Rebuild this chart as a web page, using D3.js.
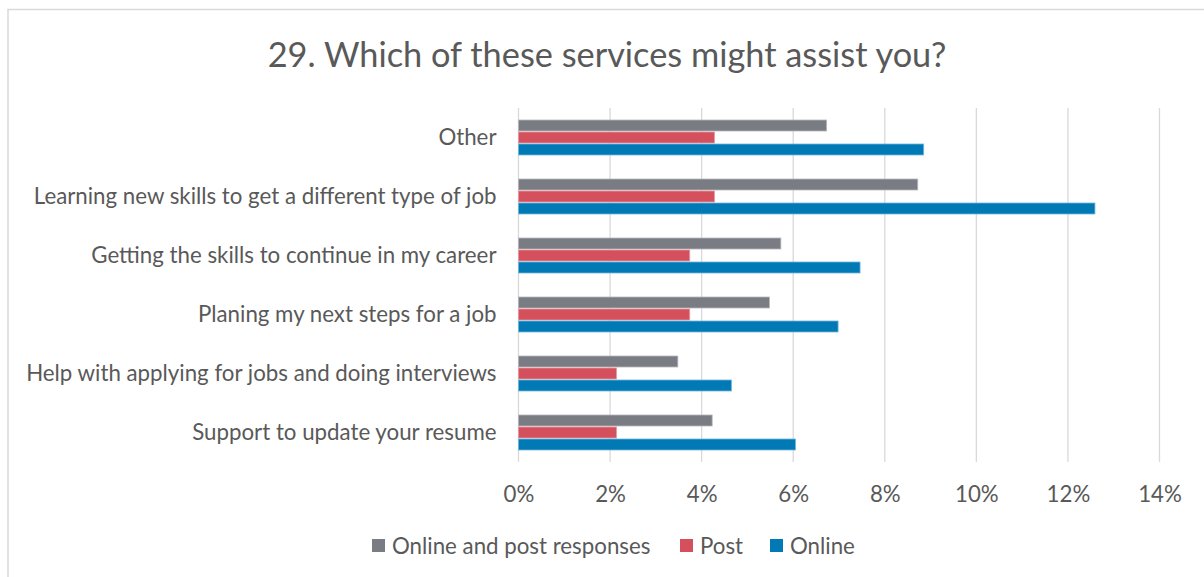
<!DOCTYPE html>
<html><head><meta charset="utf-8">
<script src="https://cdn.jsdelivr.net/npm/d3@7"></script>
<style>body{margin:0;background:#fff}svg{display:block}text{font-family:Lato,"Open Sans",sans-serif;fill:#595959}</style>
</head><body><svg id="c" width="1204" height="577"></svg>
<script>
const title = "29. Which of these services might assist you?";
const categories = ["Other","Learning new skills to get a different type of job","Getting the skills to continue in my career","Planing my next steps for a job","Help with applying for jobs and doing interviews","Support to update your resume"];
const seriesNames = ["Online and post responses","Post","Online"];
const combined = [6.73, 8.72, 5.73, 5.48, 3.48, 4.23];
const post = [4.28, 4.28, 3.74, 3.74, 2.14, 2.14];
const online = [8.85, 12.59, 7.46, 6.98, 4.65, 6.05];
const ticks = [0,2,4,6,8,10,12,14];
const colors = ["#7a7c84","#d4505d","#0079b4"];
const strokes = ["#b5b7bc","#e79aa1","#6fb6dc"];
const seriesVals = [combined, post, online];

const svg = d3.select("#c");
svg.append("rect").attr("x",8).attr("y",9.5).attr("width",1204).attr("height",580).attr("fill","none").attr("stroke","#d9d9d9").attr("stroke-width",1.5);

const x = d3.scaleLinear().domain([0,14]).range([518.5,1159.5]);
const y = d3.scaleBand().domain(categories).range([108,462]).paddingInner(0.39).paddingOuter(0.195);
const ys = d3.scaleBand().domain(d3.range(3)).range([0,y.bandwidth()]);

function fit(sel, target){ // scale font size so text width matches the reference width
  const w = sel.node().getComputedTextLength();
  const fs = parseFloat(sel.style("font-size"));
  sel.style("font-size", (fs*target/w).toFixed(2)+"px");
}

const t = svg.append("text").attr("x",607).attr("y",67).attr("text-anchor","middle").style("font-size","30px").text(title);
fit(t, 679);

const g = svg.append("g");
g.selectAll("line.grid").data(ticks).join("line").attr("class","grid")
  .attr("x1",d=>x(d)).attr("x2",d=>x(d)).attr("y1",108).attr("y2",462)
  .attr("stroke","#d9d9d9").attr("stroke-width",1.3);

seriesVals.forEach((vals,si)=>{
  g.selectAll("rect.s"+si).data(vals).join("rect").attr("class","s"+si)
   .attr("x",x(0)).attr("y",(d,i)=>y(categories[i])+ys(si)+0.5)
   .attr("width",d=>x(d)-x(0)).attr("height",ys.bandwidth()-1)
   .attr("fill",colors[si]).attr("stroke",strokes[si]).attr("stroke-width",0.8);
});

const yAxis = d3.axisLeft(y).tickSize(0).tickPadding(22);
const ya = svg.append("g").attr("transform",`translate(${x(0)},0)`).call(yAxis);
ya.select(".domain").remove();
ya.selectAll("text").style("font-family","Lato,sans-serif").attr("fill","#595959").style("font-size","20px");
fit(ya.selectAll("text").filter(d=>d.startsWith("Learning")), 463);
const catFs = ya.selectAll("text").filter(d=>d.startsWith("Learning")).style("font-size");
ya.selectAll("text").style("font-size",catFs);

const xAxis = d3.axisBottom(x).tickValues(ticks).tickSize(0).tickPadding(24).tickFormat(d=>d+"%");
const xa = svg.append("g").attr("transform","translate(0,462)").call(xAxis);
xa.select(".domain").remove();
xa.selectAll("text").style("font-family","Lato,sans-serif").attr("fill","#595959").style("font-size",catFs);

// legend
const legX = [372, 680, 770];
const leg = svg.append("g");
seriesNames.forEach((n,i)=>{
  leg.append("rect").attr("x",legX[i]).attr("y",539).attr("width",13).attr("height",13).attr("fill",colors[i]);
  leg.append("text").attr("x",legX[i]+20).attr("y",554).style("font-size",catFs).text(n);
});
</script></body></html>
